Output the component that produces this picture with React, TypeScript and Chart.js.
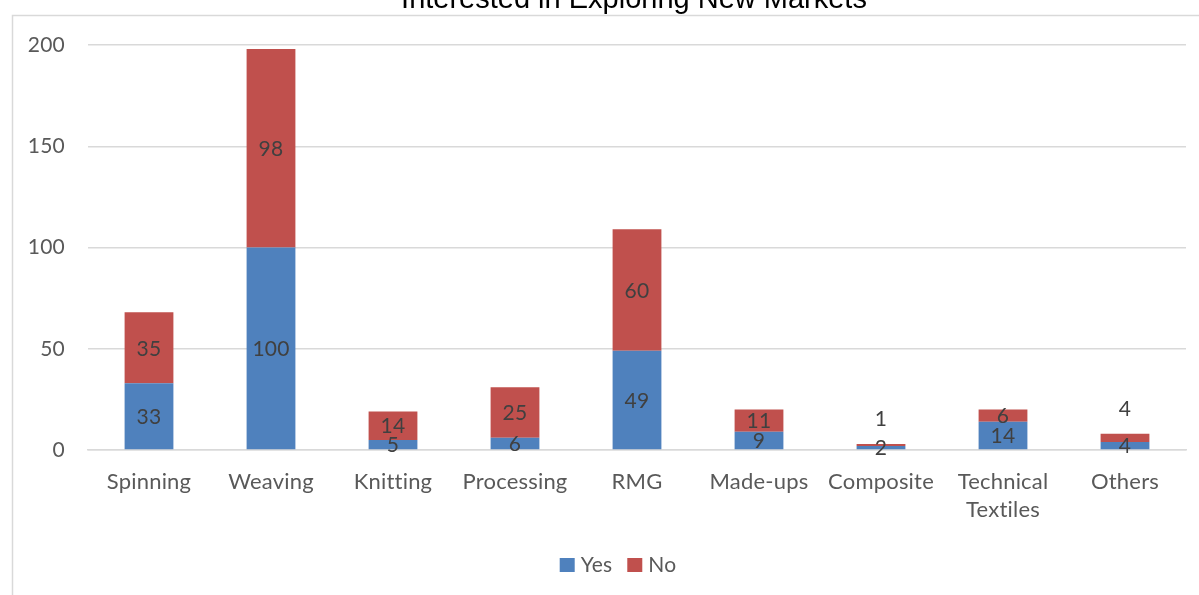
import React, { useEffect, useRef } from "react";
import { Chart, registerables } from "chart.js";

Chart.register(...registerables);

const categories: (string | string[])[] = [
  "Spinning",
  "Weaving",
  "Knitting",
  "Processing",
  "RMG",
  "Made-ups",
  "Composite",
  ["Technical", "Textiles"],
  "Others",
];
const yesValues = [33, 100, 5, 6, 49, 9, 2, 14, 4];
const noValues = [35, 98, 14, 25, 60, 11, 1, 6, 4];
const yTicks = [0, 50, 100, 150, 200];

const TITLE = "Interested in Exploring New Markets";
const FONT = "Lato, 'Open Sans', sans-serif";
const TEXT = "#595959";
const LABEL = "#404040";
const GRID = "#d9d9d9";
const BLUE = "#4F81BD";
const RED = "#C0504D";

const framePlugin = {
  id: "frame",
  beforeDraw(chart: any) {
    const ctx = chart.ctx;
    // a tiny letter spacing keeps "ti" from being drawn as a ligature
    ctx.letterSpacing = "0.2px";
    ctx.save();
    ctx.fillStyle = "#ffffff";
    ctx.fillRect(0, 0, chart.width, chart.height);
    ctx.strokeStyle = GRID;
    ctx.lineWidth = 1.5;
    ctx.beginPath();
    ctx.moveTo(12.5, chart.height + 2);
    ctx.lineTo(12.5, 15.5);
    ctx.lineTo(chart.width + 2, 15.5);
    ctx.stroke();
    // chart title, partly above the frame
    ctx.letterSpacing = "0px";
    ctx.fillStyle = "#000000";
    ctx.font = "29px 'Liberation Sans', Arial, sans-serif";
    ctx.textAlign = "center";
    ctx.textBaseline = "alphabetic";
    ctx.fillText(TITLE, 634, 8);
    ctx.restore();
  },
  afterDraw(chart: any) {
    const ctx = chart.ctx;
    ctx.save();
    ctx.font = `21px ${FONT}`;
    ctx.textBaseline = "middle";
    ctx.textAlign = "left";
    const items = chart.data.datasets.map((d: any) => ({ label: d.label, color: d.backgroundColor }));
    const box = 15;
    const gap = 6;
    const spacing = 15;
    const widths = items.map((it: any) => box + gap + ctx.measureText(it.label).width);
    const total = widths.reduce((a: number, b: number) => a + b, 0) + spacing * (items.length - 1);
    let x = 618 - total / 2;
    const cy = 565;
    items.forEach((it: any, i: number) => {
      ctx.fillStyle = it.color;
      ctx.fillRect(x, cy - 7, box, 14);
      ctx.fillStyle = TEXT;
      ctx.fillText(it.label, x + box + gap, cy);
      x += widths[i] + spacing;
    });
    ctx.restore();
  },
};

const labelPlugin = {
  id: "segmentLabels",
  afterDatasetsDraw(chart: any) {
    const ctx = chart.ctx;
    ctx.save();
    ctx.font = `21px ${FONT}`;
    ctx.fillStyle = LABEL;
    ctx.textAlign = "center";
    ctx.textBaseline = "middle";
    chart.data.datasets.forEach((ds: any, di: number) => {
      const meta = chart.getDatasetMeta(di);
      meta.data.forEach((bar: any, i: number) => {
        const v = ds.data[i];
        const h = Math.abs(bar.base - bar.y);
        let y = (bar.y + bar.base) / 2 + 1;
        // thin top segments get their label lifted above the bar
        if (di === chart.data.datasets.length - 1 && h < 10) {
          y = bar.y - 25;
        }
        ctx.fillText(String(v), bar.x, y);
      });
    });
    ctx.restore();
  },
};

export default function App() {
  const ref = useRef<HTMLCanvasElement | null>(null);

  useEffect(() => {
    if (!ref.current) return;
    const chart = new Chart(ref.current, {
      type: "bar",
      data: {
        labels: categories,
        datasets: [
          { label: "Yes", data: yesValues, backgroundColor: BLUE },
          { label: "No", data: noValues, backgroundColor: RED },
        ],
      },
      options: {
        responsive: false,
        animation: false,
        layout: { padding: { top: 45, right: 13, left: 0, bottom: 0 } },
        datasets: {
          bar: { barPercentage: 0.4, categoryPercentage: 1 },
        },
        plugins: {
          legend: { display: false },
          title: { display: false },
          tooltip: { enabled: false },
        },
        scales: {
          x: {
            stacked: true,
            grid: { display: false, drawTicks: false },
            border: { display: true, color: GRID, width: 1.5 },
            ticks: {
              color: TEXT,
              font: { family: FONT, size: 22, lineHeight: 1.28 },
              padding: 18,
              maxRotation: 0,
              autoSkip: false,
            },
            afterFit(scale: any) {
              scale.height = 145;
            },
          },
          y: {
            stacked: true,
            min: 0,
            max: 200,
            afterBuildTicks(scale: any) {
              scale.ticks = yTicks.map((v) => ({ value: v }));
            },
            grid: { color: GRID, lineWidth: 1.5, drawTicks: false },
            border: { display: false },
            ticks: {
              color: TEXT,
              font: { family: FONT, size: 21 },
              padding: 23,
            },
            afterFit(scale: any) {
              scale.width = 88;
            },
          },
        },
      },
      plugins: [framePlugin, labelPlugin],
    });
    return () => chart.destroy();
  }, []);

  return (
    <div style={{ position: "fixed", left: 0, top: 0, width: 1199, height: 595, background: "#fff" }}>
      <canvas ref={ref} width={1199} height={595} style={{ display: "block" }} />
    </div>
  );
}
